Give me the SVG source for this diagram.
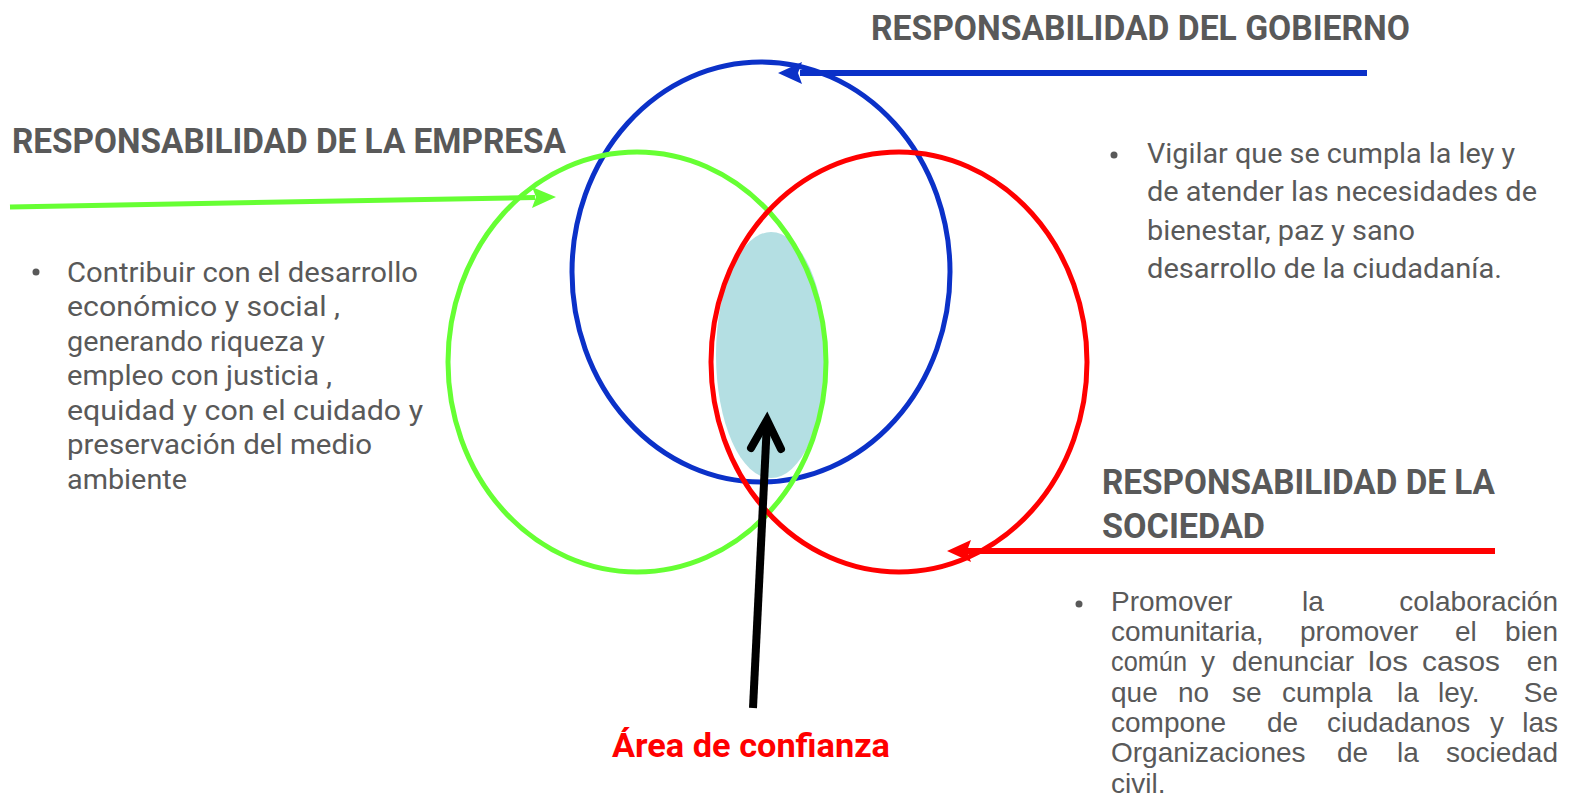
<svg xmlns="http://www.w3.org/2000/svg" width="1570" height="801" viewBox="0 0 1570 801">
<style>
.h{font-family:Roboto,"Liberation Sans",sans-serif;font-weight:bold;font-size:35px;fill:#595959}
.b{font-family:Roboto,"Liberation Sans",sans-serif;font-size:27px;fill:#595959}
.j{font-family:"Liberation Sans",Arial,sans-serif;font-size:28px;fill:#595959}
.e{text-anchor:end}
.c{fill:none;stroke-width:5}
</style>
<rect width="1570" height="801" fill="#fff"/>
<g id="trust-area"><ellipse cx="771" cy="355" rx="55" ry="123" fill="#b4dfe3"/></g>
<g id="gobierno"><ellipse class="c" cx="761" cy="272" rx="189" ry="210" stroke="#0b31c8"/></g>
<g id="empresa"><ellipse class="c" cx="637" cy="362" rx="189" ry="210" stroke="#66ff33"/></g>
<g id="sociedad"><ellipse class="c" cx="899" cy="362" rx="188" ry="210" stroke="#ff0000"/></g>
<g id="connectors">
<line x1="1367" y1="73" x2="800" y2="73" stroke="#0b31c8" stroke-width="6"/>
<path d="M778,73 L802,62 L798,73 L802,84 Z" fill="#0b31c8"/>
<line x1="10" y1="207" x2="535" y2="197.5" stroke="#66ff33" stroke-width="5"/>
<path d="M556,197 L532,187 L536,197 L532,208 Z" fill="#66ff33"/>
<line x1="1495" y1="551" x2="965" y2="551" stroke="#ff0000" stroke-width="6"/>
<path d="M947,551 L971,540 L967,551 L971,562 Z" fill="#ff0000"/>
<line x1="753" y1="708" x2="767" y2="422" stroke="#000" stroke-width="8"/>
<polyline points="751,448 767,420 781,449" fill="none" stroke="#000" stroke-width="8" stroke-linecap="round" stroke-linejoin="miter"/>
</g>
<g id="label-gobierno"><text class="h" x="871" y="40" textLength="539" lengthAdjust="spacingAndGlyphs">RESPONSABILIDAD DEL GOBIERNO</text></g>
<g id="label-empresa"><text class="h" x="12" y="153" textLength="554" lengthAdjust="spacingAndGlyphs">RESPONSABILIDAD DE LA EMPRESA</text></g>
<g id="label-sociedad">
<text class="h" x="1102" y="494" textLength="393" lengthAdjust="spacingAndGlyphs">RESPONSABILIDAD DE LA</text>
<text class="h" x="1102" y="538" textLength="163" lengthAdjust="spacingAndGlyphs">SOCIEDAD</text>
</g>
<g id="text-empresa">
<circle cx="36" cy="272" r="3.5" fill="#595959"/>
<text class="b" x="67" y="282" textLength="351" lengthAdjust="spacingAndGlyphs">Contribuir con el desarrollo</text>
<text class="b" x="67" y="316" textLength="273" lengthAdjust="spacingAndGlyphs">económico y social ,</text>
<text class="b" x="67" y="351" textLength="258" lengthAdjust="spacingAndGlyphs">generando riqueza y</text>
<text class="b" x="67" y="385" textLength="265" lengthAdjust="spacingAndGlyphs">empleo con justicia ,</text>
<text class="b" x="67" y="420" textLength="356" lengthAdjust="spacingAndGlyphs">equidad y con el cuidado y</text>
<text class="b" x="67" y="454" textLength="305" lengthAdjust="spacingAndGlyphs">preservación del medio</text>
<text class="b" x="67" y="489" textLength="120" lengthAdjust="spacingAndGlyphs">ambiente</text>
</g>
<g id="text-gobierno">
<circle cx="1114" cy="155" r="3.5" fill="#595959"/>
<text class="b" x="1147" y="163" textLength="368" lengthAdjust="spacingAndGlyphs">Vigilar que se cumpla la ley y</text>
<text class="b" x="1147" y="201" textLength="390" lengthAdjust="spacingAndGlyphs">de atender las necesidades de</text>
<text class="b" x="1147" y="240" textLength="268" lengthAdjust="spacingAndGlyphs">bienestar, paz y sano</text>
<text class="b" x="1147" y="278" textLength="355" lengthAdjust="spacingAndGlyphs">desarrollo de la ciudadanía.</text>
</g>
<g id="text-sociedad">
<circle cx="1079" cy="604" r="3.5" fill="#595959"/>
<text class="j" y="611"><tspan x="1111">Promover</tspan><tspan x="1302">la</tspan></text>
<text class="j e" x="1558" y="611">colaboración</text>
<text class="j" y="641"><tspan x="1111">comunitaria,</tspan><tspan x="1300">promover</tspan><tspan x="1455">el</tspan></text>
<text class="j e" x="1558" y="641">bien</text>
<text class="j" y="671" lengthAdjust="spacingAndGlyphs" x="1111" textLength="76">común</text>
<text class="j" y="671" x="1201">y</text>
<text class="j" y="671" lengthAdjust="spacingAndGlyphs" x="1232" textLength="122">denunciar</text>
<text class="j" y="671" lengthAdjust="spacingAndGlyphs" x="1368" textLength="40">los</text>
<text class="j" y="671" lengthAdjust="spacingAndGlyphs" x="1422" textLength="78">casos</text>
<text class="j e" x="1558" y="671">en</text>
<text class="j" y="702"><tspan x="1111">que</tspan><tspan x="1178">no</tspan><tspan x="1232">se</tspan><tspan x="1282">cumpla</tspan><tspan x="1397">la</tspan><tspan x="1438">ley.</tspan></text>
<text class="j e" x="1558" y="702">Se</text>
<text class="j" y="732"><tspan x="1111">compone</tspan><tspan x="1267">de</tspan><tspan x="1327">ciudadanos</tspan><tspan x="1490">y</tspan></text>
<text class="j e" x="1558" y="732">las</text>
<text class="j" y="762"><tspan x="1111">Organizaciones</tspan><tspan x="1337">de</tspan><tspan x="1397">la</tspan></text>
<text class="j e" x="1558" y="762">sociedad</text>
<text class="j" x="1111" y="793">civil.</text>
</g>
<g id="label-area"><text x="612" y="757" font-family="Roboto,'Liberation Sans',sans-serif" font-weight="bold" font-size="33" fill="#ff0000" textLength="278" lengthAdjust="spacingAndGlyphs">Área de confianza</text></g>
</svg>
